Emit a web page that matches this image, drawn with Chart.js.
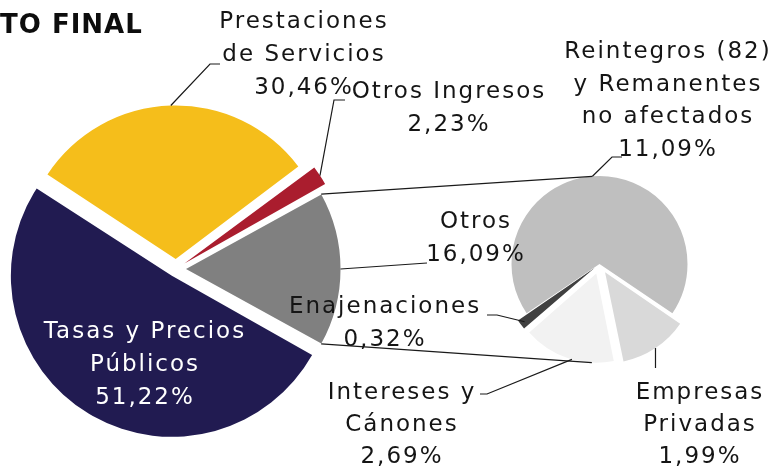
<!DOCTYPE html>
<html>
<head>
<meta charset="utf-8">
<script src="https://cdn.jsdelivr.net/npm/chart.js@4.4.1/dist/chart.umd.min.js"></script>
<style>
  html, body { margin: 0; padding: 0; background: #fff; }
  #wrap { position: relative; width: 771px; height: 470px; }
  #wrap canvas { position: absolute; left: 0; top: 0; }
</style>
</head>
<body>
<div id="wrap">
  <canvas id="main" width="771" height="470"></canvas>
  <canvas id="detail" width="771" height="470"></canvas>
</div>
<script>
// main pie (order = clockwise from the split slice)
var mainLabels = ["Otros", "Tasas y Precios Públicos", "Prestaciones de Servicios", "Otros Ingresos"];
var mainValues = [16.09, 51.22, 30.46, 2.23];
var mainColors = ["#808080", "#211b51", "#f5be1b", "#aa1d2e"];

// breakdown of "Otros"
var detailLabels = ["Empresas Privadas", "Intereses y Cánones", "Enajenaciones", "Reintegros (82) y Remanentes no afectados"];
var detailValues = [1.99, 2.69, 0.32, 11.09];
var detailColors = ["#d9d9d9", "#f2f2f2", "#404040", "#bfbfbf"];

var FONT = '"DejaVu Sans", sans-serif';
var TXT = "#151515";

function pct(v) { return v.toFixed(2).replace(".", ",") + "%"; }

// geometry of a drawn arc, same maths as ArcElement.draw
function geom(chart, i) {
  var arc = chart.getDatasetMeta(0).data[i];
  var off = (arc.options.offset || 0) / 4;
  var mid = (arc.startAngle + arc.endAngle) / 2;
  var circ = arc.endAngle - arc.startAngle;
  var fix = 1 - Math.sin(Math.min(Math.PI, circ));
  return {
    cx: arc.x + Math.cos(mid) * off,
    cy: arc.y + Math.sin(mid) * off,
    r: arc.outerRadius + off * fix,
    start: arc.startAngle, end: arc.endAngle, mid: mid
  };
}
function pt(g, ang, f) {
  f = f || 1;
  return { x: g.cx + Math.cos(ang) * g.r * f, y: g.cy + Math.sin(ang) * g.r * f };
}

var mainTotal = mainValues.reduce(function (a, b) { return a + b; }, 0);
var detailTotal = detailValues.reduce(function (a, b) { return a + b; }, 0);
var mainRotation = 90 - (mainValues[0] / mainTotal) * 360 / 2;
var smallShare = (detailTotal - detailValues[3]) / detailTotal * 360;
var detailRotation = 90 + 90 - smallShare / 2;

var mainChart = new Chart(document.getElementById("main"), {
  type: "pie",
  data: {
    labels: mainLabels,
    datasets: [{
      data: mainValues,
      backgroundColor: mainColors,
      borderWidth: 0,
      offset: [40, 32, 40, 40]
    }]
  },
  options: {
    responsive: false,
    animation: false,
    rotation: mainRotation,
    radius: 153,
    layout: { padding: { left: 0, right: 419, top: 68, bottom: 0 } },
    plugins: { legend: { display: false }, tooltip: { enabled: false } }
  }
});

function drawLines(ctx, lines, cx, y0, lh, color) {
  ctx.fillStyle = color;
  lines.forEach(function (s, k) { ctx.fillText(s, cx, y0 + k * lh); });
}
function poly(ctx, pts) {
  ctx.beginPath();
  ctx.moveTo(pts[0].x, pts[0].y);
  for (var k = 1; k < pts.length; k++) ctx.lineTo(pts[k].x, pts[k].y);
  ctx.stroke();
}

var overlay = {
  id: "overlay",
  afterDraw: function (chart) {
    var ctx = chart.ctx;
    var gOtros = geom(mainChart, 0);
    var gPrest = geom(mainChart, 2);
    var gOI = geom(mainChart, 3);
    var gEmp = geom(chart, 0);
    var gInt = geom(chart, 1);
    var gEna = geom(chart, 2);
    var gRei = geom(chart, 3);

    ctx.save();
    ctx.strokeStyle = "#1a1a1a";
    ctx.lineWidth = 1.2;

    // connectors between the two pies
    poly(ctx, [pt(gOtros, gOtros.start), pt(gRei, -Math.PI / 2 - 0.08)]);
    poly(ctx, [pt(gOtros, gOtros.end), pt(gInt, Math.PI / 2 + 0.05)]);

    // leader lines
    poly(ctx, [pt(gPrest, gPrest.mid), { x: 210, y: 64 }, { x: 220, y: 64 }]);
    poly(ctx, [pt(gOI, gOI.mid), { x: 334, y: 100 }, { x: 345, y: 100 }]);
    poly(ctx, [pt(gOtros, gOtros.mid), { x: 427, y: 263 }]);
    poly(ctx, [pt(gRei, gRei.mid - 0.08), { x: 612, y: 157 }, { x: 622, y: 157 }]);
    poly(ctx, [{ x: 487, y: 315 }, { x: 497, y: 315 }, pt(gEna, gEna.mid, 0.95)]);
    poly(ctx, [{ x: 480, y: 394 }, { x: 487, y: 394 }, pt(gInt, gInt.mid - 0.05)]);
    var pe = pt(gEmp, gEmp.mid);
    poly(ctx, [pe, { x: pe.x, y: 368 }]);

    // labels
    ctx.font = "23px " + FONT;
    ctx.letterSpacing = "2px";
    ctx.textAlign = "center";
    ctx.textBaseline = "middle";
    var LH = 33;
    drawLines(ctx, ["Prestaciones", "de Servicios", pct(mainValues[2])], 304, 22, LH, TXT);
    drawLines(ctx, ["Otros Ingresos", pct(mainValues[3])], 449, 92, LH, TXT);
    drawLines(ctx, ["Otros", pct(mainValues[0])], 476, 222, LH, TXT);
    drawLines(ctx, ["Tasas y Precios", "Públicos", pct(mainValues[1])], 145, 332, LH, "#ffffff");
    drawLines(ctx, ["Reintegros (82)", "y Remanentes", "no afectados", pct(detailValues[3])], 668, 52, 32.7, TXT);
    drawLines(ctx, ["Enajenaciones", pct(detailValues[2])], 385, 307, LH, TXT);
    drawLines(ctx, ["Intereses y", "Cánones", pct(detailValues[1])], 402, 393, 32, TXT);
    drawLines(ctx, ["Empresas", "Privadas", pct(detailValues[0])], 700, 393, 32, TXT);

    // clipped title
    ctx.font = "bold 26px " + FONT;
    ctx.letterSpacing = "1px";
    ctx.textAlign = "left";
    ctx.fillStyle = "#0d0d0d";
    ctx.fillText("TO FINAL", 0, 26);
    ctx.restore();
  }
};

new Chart(document.getElementById("detail"), {
  type: "pie",
  data: {
    labels: detailLabels,
    datasets: [{
      data: detailValues,
      backgroundColor: detailColors,
      borderWidth: 0,
      offset: [40, 40, 24, 0]
    }]
  },
  options: {
    responsive: false,
    animation: false,
    rotation: detailRotation,
    radius: 88,
    layout: { padding: { left: 428, right: 0, top: 58, bottom: 0 } },
    plugins: { legend: { display: false }, tooltip: { enabled: false } }
  },
  plugins: [overlay]
});
</script>
</body>
</html>
